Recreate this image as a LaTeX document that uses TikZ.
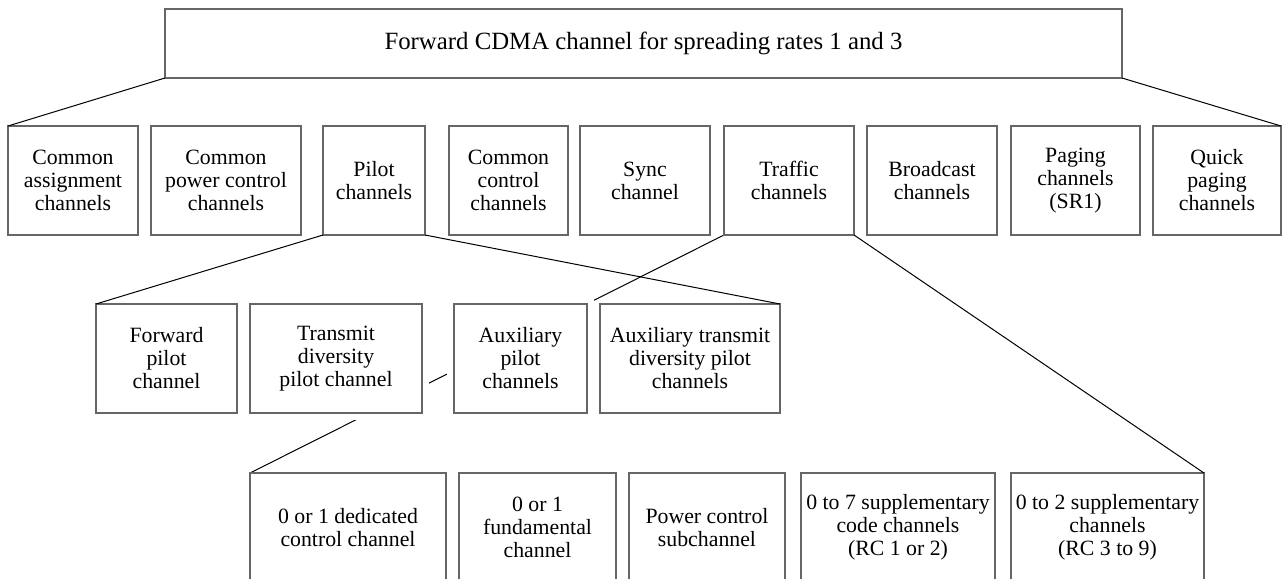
\documentclass[tikz,border=0pt]{standalone}
\usepackage{fontspec}
\setmainfont{Liberation Serif}
\usetikzlibrary{backgrounds}

\begin{document}
\begin{tikzpicture}[x=0.5pt, y=-0.5pt,
    every node/.style={rectangle, draw=black!60, line width=0.8pt, fill=white, outer sep=0pt,
        inner sep=0pt, align=center, minimum height=54.5pt, font=\fontsize{10.9}{11.5}\selectfont},
    hidden/.style={preaction={draw=white, line width=7pt}},
    plain/.style={},
    link/.style={line width=0.5pt}]
    \useasboundingbox (0,0) rectangle (1282,579);
    \clip (0,0) rectangle (1282,579);

    % Forward CDMA channel (top)
    \node[minimum width=478.5pt, minimum height=34.5pt, font=\fontsize{12.4}{14}\selectfont] (TOP) at (643.5,43.5) {Forward CDMA channel for spreading rates 1 and 3};

    % First level (9 channel groups)
    \foreach \n/\cx/\w/\txt in {CA/73/130/{Common\\assignment\\channels},
            CPC/226/150/{Common\\power control\\channels},
            P/374/102/{Pilot\\channels},
            CC/508.5/119/{Common\\control\\channels},
            S/645/130/{Sync\\channel},
            T/789/130/{Traffic\\channels},
            B/932/130/{Broadcast\\channels},
            PG/1075.5/129/{Paging\\channels\\(SR1)},
            QP/1217/128/{Quick\\paging\\channels}} {
        \node[minimum width=\w*0.5pt] (\n) at (\cx,180.5) {\txt};
    }

    % Pilot channels
    \foreach \n/\cx/\w/\opt/\txt in {FP/166.5/141/plain/{Forward\\pilot\\channel},
            TDP/336/172/hidden/{Transmit\\diversity\\pilot channel},
            AP/520.5/133/hidden/{Auxiliary\\pilot\\channels},
            ATDP/690/180/plain/{Auxiliary transmit\\diversity pilot\\channels}} {
        \node[\opt, minimum width=\w*0.5pt] (\n) at (\cx,358.5) {\txt};
    }

    % Traffic channels
    \foreach \n/\cx/\w/\txt in {DCC/348/196/{0 or 1 dedicated\\control channel},
            FCH/537.5/157/{0 or 1\\fundamental\\channel},
            PCS/707/156/{Power control\\subchannel},
            SCC/898/194/{0 to 7 supplementary\\code channels\\(RC 1 or 2)},
            SCH/1107.5/193/{0 to 2 supplementary\\channels\\(RC 3 to 9)}} {
        \node[minimum width=\w*0.5pt] (\n) at (\cx,527.5) {\txt};
    }

    % Connections
    \draw[link] (TOP.south west) -- (CA.north west);
    \draw[link] (TOP.south east) -- (QP.north east);
    \draw[link] (P.south west) -- (FP.north west);
    \draw[link] (P.south east) -- (ATDP.north east);
    \draw[link] (T.south east) -- (SCH.north east);
    % passes behind the pilot boxes
    \begin{scope}[on background layer]
        \draw[link] (T.south west) -- (DCC.north west);
    \end{scope}
\end{tikzpicture}
\end{document}
